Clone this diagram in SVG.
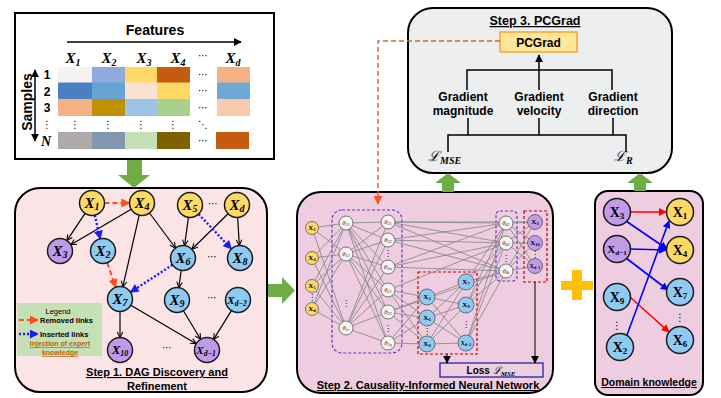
<svg xmlns="http://www.w3.org/2000/svg" width="721" height="398" viewBox="0 0 721 398">
<defs>
<style>
.sans{font-family:"Liberation Sans",Arial,sans-serif}
.b{font-weight:bold}
.ttl{font-family:"Liberation Sans",Arial,sans-serif;font-weight:bold;text-decoration:underline;text-anchor:middle}
.mx{font-family:"Liberation Serif","Times New Roman",serif;font-style:italic;font-weight:bold;text-anchor:middle}
.ux{font-family:"Liberation Serif","Times New Roman",serif;font-weight:bold;text-anchor:middle}
.th{font-family:"Liberation Serif","Times New Roman",serif;font-style:italic;text-anchor:middle;fill:#333}
.dots{font-family:"DejaVu Sans",sans-serif;text-anchor:middle}
.nd{stroke:#1a1a1a;stroke-width:1.5}
.yl{fill:#FFD966}.bl{fill:#8ECAF2}.pu{fill:#C09BEA}.wh{fill:#F4F4F4}
.e{stroke:#000;stroke-width:1.2;fill:none;marker-end:url(#ah)}
.rd{stroke:#FF4A1A;stroke-width:2;stroke-dasharray:5 3;fill:none;marker-end:url(#ar)}
.bd{stroke:#1A1AFF;stroke-width:2.4;stroke-dasharray:2 2;fill:none;marker-end:url(#ab)}
.nn{stroke:#8C8C8C;stroke-width:0.9;fill:none}
.nc{stroke:#555;stroke-width:0.8}
.gr{fill:#70AD47}
</style>
<marker id="ah" viewBox="0 0 10 10" refX="9" refY="5" markerWidth="7" markerHeight="7" markerUnits="userSpaceOnUse" orient="auto"><path d="M1,1 L9,5 L1,9" fill="none" stroke="#000" stroke-width="1.5"/></marker>
<marker id="ak" viewBox="0 0 10 10" refX="9" refY="5" markerWidth="8" markerHeight="8" markerUnits="userSpaceOnUse" orient="auto-start-reverse"><path d="M0,0 L10,5 L0,10 z" fill="#000"/></marker>
<marker id="ar" viewBox="0 0 10 10" refX="9" refY="5" markerWidth="9" markerHeight="9" markerUnits="userSpaceOnUse" orient="auto"><path d="M0,0 L10,5 L0,10 z" fill="#FF4A1A"/></marker>
<marker id="ab" viewBox="0 0 10 10" refX="9" refY="5" markerWidth="9" markerHeight="9" markerUnits="userSpaceOnUse" orient="auto"><path d="M0,0 L10,5 L0,10 z" fill="#1A1AFF"/></marker>
<marker id="ao" viewBox="0 0 10 10" refX="9" refY="5" markerWidth="9" markerHeight="9" markerUnits="userSpaceOnUse" orient="auto"><path d="M0,0 L10,5 L0,10 z" fill="#F05A28"/></marker>
<marker id="dr" viewBox="0 0 10 10" refX="9" refY="5" markerWidth="8" markerHeight="8" markerUnits="userSpaceOnUse" orient="auto"><path d="M0,0 L10,5 L0,10 z" fill="#FF0000"/></marker>
<marker id="db" viewBox="0 0 10 10" refX="9" refY="5" markerWidth="8" markerHeight="8" markerUnits="userSpaceOnUse" orient="auto"><path d="M0,0 L10,5 L0,10 z" fill="#0000FF"/></marker>
</defs>
<rect width="721" height="398" fill="#fff"/>

<!-- Data table -->
<g id="data-table">
<rect x="15" y="13" width="259" height="146" fill="#fff" stroke="#000" stroke-width="2"/>
<text x="155" y="35" class="sans b" font-size="14" text-anchor="middle">Features</text>
<line x1="67" y1="42" x2="241" y2="42" stroke="#000" stroke-width="1.5" marker-end="url(#ak)"/>
<g class="mx" font-size="15">
<text x="73" y="63">X<tspan font-size="10" dy="3">1</tspan></text>
<text x="109" y="63">X<tspan font-size="10" dy="3">2</tspan></text>
<text x="144" y="63">X<tspan font-size="10" dy="3">3</tspan></text>
<text x="178" y="63">X<tspan font-size="10" dy="3">4</tspan></text>
<text x="233" y="63">X<tspan font-size="10" dy="3">d</tspan></text>
</g>
<text x="203" y="59" class="dots" font-size="10">⋯</text>
<rect x="58" y="67" width="34" height="16" fill="#F6F2EF"/>
<rect x="92" y="67" width="33" height="16" fill="#8FAADC"/>
<rect x="125" y="67" width="32" height="16" fill="#FFD966"/>
<rect x="157" y="67" width="33" height="16" fill="#C55A11"/>
<rect x="217" y="67" width="33" height="16" fill="#F4B183"/>
<rect x="58" y="82.5" width="34" height="16.5" fill="#4A80C0"/>
<rect x="92" y="82.5" width="33" height="16.5" fill="#64A3D2"/>
<rect x="125" y="82.5" width="32" height="16.5" fill="#F8E2D2"/>
<rect x="157" y="82.5" width="33" height="16.5" fill="#FFD966"/>
<rect x="217" y="82.5" width="33" height="16.5" fill="#6FA8D2"/>
<rect x="58" y="99" width="34" height="17" fill="#F4B183"/>
<rect x="92" y="99" width="33" height="17" fill="#BF9000"/>
<rect x="125" y="99" width="32" height="17" fill="#9DC3E6"/>
<rect x="157" y="99" width="33" height="17" fill="#A9D18E"/>
<rect x="217" y="99" width="33" height="17" fill="#F8CBAD"/>
<rect x="58" y="132" width="34" height="17" fill="#AEAAAA"/>
<rect x="92" y="132" width="33" height="17" fill="#8497B0"/>
<rect x="125" y="132" width="32" height="17" fill="#C5E0B4"/>
<rect x="157" y="132" width="33" height="17" fill="#7F6000"/>
<rect x="216" y="132" width="33" height="17" fill="#C55A11"/>
<g class="dots" font-size="10">
<text x="203" y="78">⋯</text><text x="203" y="94">⋯</text><text x="203" y="111">⋯</text><text x="203" y="144">⋯</text>
<text x="75" y="128">⋮</text><text x="108" y="128">⋮</text><text x="141" y="128">⋮</text><text x="173" y="128">⋮</text><text x="203" y="128">⋱</text>
<text x="47" y="128">⋮</text>
</g>
<g class="sans b" font-size="12" text-anchor="middle">
<text x="47" y="79">1</text><text x="47" y="96">2</text><text x="47" y="112">3</text>
</g>
<text x="46" y="146" class="mx" font-size="14">N</text>
<line x1="35" y1="70" x2="35" y2="141" stroke="#000" stroke-width="1.5" marker-start="url(#ak)" marker-end="url(#ak)"/>
<text transform="translate(27,102) rotate(-90)" y="5" class="sans b" font-size="14" text-anchor="middle">Samples</text>
</g>

<!-- Panel backgrounds -->
<g id="step1-panel">
<rect x="15" y="188" width="252" height="204" rx="25" fill="#FBE4E5" stroke="#000" stroke-width="2"/>
<text x="157" y="376" class="ttl" font-size="11">Step 1. DAG Discovery and</text>
<text x="157" y="390" class="ttl" font-size="11">Refinement</text>
</g>
<g id="step2-panel">
<rect x="297" y="192" width="256" height="201" rx="24" fill="#EECDE1" stroke="#000" stroke-width="2"/>
<text x="428" y="389" class="ttl" font-size="11">Step 2. Causality-Informed Neural Network</text>
</g>
<g id="step3-panel">
<rect x="408" y="8" width="264" height="165" rx="25" fill="#EDEEF0" stroke="#000" stroke-width="2"/>
<text x="535" y="25" class="ttl" font-size="12.5">Step 3. PCGrad</text>
</g>
<g id="domain-panel">
<rect x="595" y="191" width="108" height="204" rx="13" fill="#EECDE1" stroke="#000" stroke-width="2"/>
<text x="649" y="386" class="ttl" font-size="10.5">Domain knowledge</text>
</g>

<!-- Green arrows and plus -->
<g id="flow-arrows">
<polygon class="gr" points="127,160 142,160 142,175 150,175 134,188 118,175 127,175"/>
<polygon class="gr" points="268,284 282,284 282,277 295,290.5 282,304 282,297 268,297"/>
<polygon class="gr" points="442,192 454,192 454,183 461,183 448,173 435,183 442,183"/>
<polygon class="gr" points="634,191 646,191 646,183 653,183 640,173 627,183 634,183"/>
<rect x="561" y="281" width="32" height="9" fill="#FFC000"/>
<rect x="572" y="270" width="10" height="30" fill="#FFC000"/>
</g>

<!-- Step 1 legend -->
<g id="legend">
<rect x="17" y="303" width="85" height="53" fill="#C5E0B4"/>
<text x="58" y="314" class="sans" font-size="7.5" text-anchor="middle">Legend</text>
<line x1="19" y1="320" x2="38" y2="320" class="rd"/>
<text x="40" y="323" class="sans b" font-size="7.5">Removed links</text>
<line x1="19" y1="334" x2="38" y2="334" class="bd"/>
<text x="40" y="337" class="sans b" font-size="7.5">Inserted links</text>
<text x="60" y="346" class="sans b" font-size="7" fill="#C55A11" text-anchor="middle" text-decoration="underline">Injection of expert</text>
<text x="60" y="355" class="sans b" font-size="7" fill="#C55A11" text-anchor="middle" text-decoration="underline">knowledge</text>
</g>

<!-- Step 1 connectors -->
<g id="dag-edges">
<line class="rd" x1="104.5" y1="203" x2="129.5" y2="203"/>
<line class="e" x1="85.1" y1="213.4" x2="66.9" y2="240.6"/>
<line class="e" x1="131.2" y1="209.3" x2="70.8" y2="244.7"/>
<line class="bd" x1="94.8" y1="215.2" x2="100.2" y2="238.8"/>
<line class="e" x1="139.2" y1="215.2" x2="122.8" y2="286.8"/>
<line class="e" x1="149.5" y1="213" x2="175.5" y2="248"/>
<line class="e" x1="188.4" y1="217.4" x2="184.6" y2="245.6"/>
<line class="e" x1="228.1" y1="213.8" x2="191.9" y2="249.2"/>
<line class="e" x1="237.7" y1="217.5" x2="239.3" y2="245.5"/>
<line class="bd" x1="198.6" y1="214.1" x2="231.4" y2="248.9"/>
<line class="rd" x1="107.2" y1="262.8" x2="115.8" y2="287.2"/>
<line class="bd" x1="172.5" y1="264.8" x2="130.5" y2="292.2"/>
<line class="e" x1="181.2" y1="270.4" x2="178.8" y2="287.6"/>
<line class="e" x1="120" y1="311.5" x2="120" y2="337.5"/>
<line class="e" x1="130.8" y1="305.3" x2="196.2" y2="343.7"/>
<line class="e" x1="183.4" y1="310.7" x2="200.6" y2="339.3"/>
<line class="e" x1="231.4" y1="310.6" x2="213.6" y2="339.4"/>
</g>

<!-- Step 1 nodes -->
<g id="dag-X1"><circle cx="92" cy="203" r="12.5" class="nd yl"/><text x="92" y="208" class="mx" font-size="15">X<tspan font-size="10" dy="2">1</tspan></text></g>
<g id="dag-X4"><circle cx="142" cy="203" r="12.5" class="nd yl"/><text x="142" y="208" class="mx" font-size="15">X<tspan font-size="10" dy="2">4</tspan></text></g>
<g id="dag-X5"><circle cx="190" cy="205" r="12.5" class="nd yl"/><text x="190" y="210" class="mx" font-size="15">X<tspan font-size="10" dy="2">5</tspan></text></g>
<g id="dag-Xd"><circle cx="237" cy="205" r="12.5" class="nd yl"/><text x="237" y="210" class="mx" font-size="15">X<tspan font-size="10" dy="2">d</tspan></text></g>
<g id="dag-X3"><circle cx="60" cy="251" r="12.5" class="nd pu"/><text x="60" y="256" class="mx" font-size="15">X<tspan font-size="10" dy="2">3</tspan></text></g>
<g id="dag-X2"><circle cx="103" cy="251" r="12.5" class="nd bl"/><text x="103" y="256" class="mx" font-size="15">X<tspan font-size="10" dy="2">2</tspan></text></g>
<g id="dag-X6"><circle cx="183" cy="258" r="12.5" class="nd bl"/><text x="183" y="263" class="mx" font-size="15">X<tspan font-size="10" dy="2">6</tspan></text></g>
<g id="dag-X8"><circle cx="240" cy="258" r="12.5" class="nd bl"/><text x="240" y="263" class="mx" font-size="15">X<tspan font-size="10" dy="2">8</tspan></text></g>
<g id="dag-X7"><circle cx="120" cy="299" r="12.5" class="nd bl"/><text x="120" y="304" class="mx" font-size="15">X<tspan font-size="10" dy="2">7</tspan></text></g>
<g id="dag-X9"><circle cx="177" cy="300" r="12.5" class="nd bl"/><text x="177" y="305" class="mx" font-size="15">X<tspan font-size="10" dy="2">9</tspan></text></g>
<g id="dag-Xd-2"><circle cx="238" cy="300" r="12.5" class="nd bl"/><text x="237" y="304" class="mx" font-size="11">X<tspan font-size="7.5" dy="2">d−2</tspan></text></g>
<g id="dag-X10"><circle cx="120" cy="350" r="12.5" class="nd pu"/><text x="120" y="354" class="mx" font-size="13">X<tspan font-size="8" dy="2">10</tspan></text></g>
<g id="dag-Xd-1"><circle cx="207" cy="350" r="12.5" class="nd pu"/><text x="206" y="354" class="mx" font-size="11">X<tspan font-size="7.5" dy="2">d−1</tspan></text></g>
<g class="dots" font-size="10">
<text x="213" y="207">⋯</text><text x="212" y="260">⋯</text><text x="212" y="301">⋯</text><text x="167" y="351">⋯</text>
</g>

<!-- Step 2 neural network -->
<g id="nn-groups" fill="none" stroke-width="1.2" stroke-dasharray="3 2">
<rect x="332" y="210" width="70" height="143" rx="10" stroke="#7030C0"/>
<rect x="418" y="272" width="59" height="82" stroke="#C00000"/>
<rect x="496" y="211" width="21" height="70" rx="4" stroke="#7030C0"/>
<rect x="524" y="211" width="23" height="71" stroke="#C00000"/>
</g>
<g id="nn-connections" class="nn">
<path d="M312,228L346,223M312,228L346,254M312,228L346,328M312,258L346,223M312,258L346,254M312,258L346,328M312,286L346,223M312,286L346,254M312,286L346,328M312,309L346,223M312,309L346,254M312,309L346,328"/>
<path d="M346,223L388,222M346,223L388,240M346,223L388,267M346,223L388,290M346,223L388,312M346,223L388,343M346,254L388,222M346,254L388,240M346,254L388,267M346,254L388,290M346,254L388,312M346,254L388,343M346,328L388,222M346,328L388,240M346,328L388,267M346,328L388,290M346,328L388,312M346,328L388,343"/>
<path d="M388,222L506,223M388,222L506,243M388,222L506,271M388,240L506,223M388,240L506,243M388,240L506,271M388,267L506,223M388,267L506,243M388,267L506,271M388,222L535,222M388,290L506,243M388,312L506,271"/>
<path d="M388,290L427,297M388,290L427,318M388,290L427,344M388,312L427,297M388,312L427,318M388,312L427,344M388,343L427,297M388,343L427,318M388,343L427,344"/>
<path d="M427,297L466,282M427,297L466,305M427,297L466,343M427,318L466,282M427,318L466,305M427,318L466,343M427,344L466,282M427,344L466,305M427,344L466,343"/>
<path d="M466,282L506,223M466,282L506,243M466,282L506,271M466,305L506,223M466,305L506,243M466,305L506,271M466,343L506,223M466,343L506,243M466,343L506,271"/>
<path d="M506,223L535,222M506,223L535,243M506,223L535,266M506,243L535,222M506,243L535,243M506,243L535,266M506,271L535,222M506,271L535,243M506,271L535,266"/>
</g>
<g id="nn-inputs">
<circle cx="312" cy="228" r="6.5" class="nc yl"/><circle cx="312" cy="258" r="6.5" class="nc yl"/><circle cx="312" cy="286" r="6.5" class="nc yl"/><circle cx="312" cy="309" r="6.5" class="nc yl"/>
<g class="ux" font-size="7"><text x="312" y="230">X<tspan font-size="4.5" dy="1">1</tspan></text><text x="312" y="260">X<tspan font-size="4.5" dy="1">4</tspan></text><text x="312" y="288">X<tspan font-size="4.5" dy="1">5</tspan></text><text x="312" y="311">X<tspan font-size="4.5" dy="1">d</tspan></text></g>
<text x="312" y="300" class="dots" font-size="8">⋮</text>
</g>
<g id="nn-hidden1">
<circle cx="346" cy="223" r="7" class="nc wh"/><circle cx="346" cy="254" r="7" class="nc wh"/><circle cx="346" cy="328" r="7" class="nc wh"/>
<g class="th" font-size="6.5"><text x="346" y="225">θ<tspan font-size="4.5" dy="1">11</tspan></text><text x="346" y="256">θ<tspan font-size="4.5" dy="1">12</tspan></text><text x="346" y="330">θ<tspan font-size="4.5" dy="1">1r</tspan></text></g>
<text x="346" y="306" class="dots" font-size="8">⋮</text>
</g>
<g id="nn-hidden2">
<circle cx="388" cy="222" r="7" class="nc wh"/><circle cx="388" cy="240" r="7" class="nc wh"/><circle cx="388" cy="267" r="7" class="nc wh"/><circle cx="388" cy="290" r="7" class="nc wh"/><circle cx="388" cy="312" r="7" class="nc wh"/><circle cx="388" cy="343" r="7" class="nc wh"/>
<g class="th" font-size="6.5"><text x="388" y="224">θ<tspan font-size="4.5" dy="1">31</tspan></text><text x="388" y="242">θ<tspan font-size="4.5" dy="1">32</tspan></text><text x="388" y="269">θ<tspan font-size="4.5" dy="1">3m</tspan></text><text x="388" y="292">θ<tspan font-size="4.5" dy="1">21</tspan></text><text x="388" y="314">θ<tspan font-size="4.5" dy="1">22</tspan></text><text x="388" y="345">θ<tspan font-size="4.5" dy="1">2q</tspan></text></g>
<text x="388" y="256" class="dots" font-size="8">⋮</text><text x="388" y="331" class="dots" font-size="8">⋮</text>
</g>
<g id="nn-causal">
<circle cx="427" cy="297" r="8" class="nc bl"/><circle cx="427" cy="318" r="8" class="nc bl"/><circle cx="427" cy="344" r="8" class="nc bl"/>
<circle cx="466" cy="282" r="8" class="nc bl"/><circle cx="466" cy="305" r="8" class="nc bl"/><circle cx="466" cy="343" r="8" class="nc bl"/>
<g class="ux" font-size="7"><text x="427" y="299">X<tspan font-size="4.5" dy="1">2</tspan></text><text x="427" y="320">X<tspan font-size="4.5" dy="1">6</tspan></text><text x="427" y="346">X<tspan font-size="4.5" dy="1">8</tspan></text><text x="466" y="284">X<tspan font-size="4.5" dy="1">7</tspan></text><text x="466" y="307">X<tspan font-size="4.5" dy="1">9</tspan></text><text x="466" y="345" font-size="5.5">X<tspan font-size="4" dy="1">d−2</tspan></text></g>
<text x="427" y="334" class="dots" font-size="8">⋮</text><text x="466" y="327" class="dots" font-size="8">⋮</text>
</g>
<g id="nn-hidden4">
<circle cx="506" cy="223" r="7" class="nc wh"/><circle cx="506" cy="243" r="7" class="nc wh"/><circle cx="506" cy="271" r="7" class="nc wh"/>
<g class="th" font-size="6.5"><text x="506" y="225">θ<tspan font-size="4.5" dy="1">41</tspan></text><text x="506" y="245">θ<tspan font-size="4.5" dy="1">42</tspan></text><text x="506" y="273">θ<tspan font-size="4.5" dy="1">4t</tspan></text></g>
<text x="506" y="261" class="dots" font-size="8">⋮</text>
</g>
<g id="nn-outputs">
<circle cx="535" cy="222" r="7.5" class="nc pu"/><circle cx="535" cy="243" r="7.5" class="nc pu"/><circle cx="535" cy="266" r="7.5" class="nc pu"/>
<g class="ux" font-size="7"><text x="535" y="224">X<tspan font-size="4.5" dy="1">3</tspan></text><text x="535" y="245">X<tspan font-size="4.5" dy="1">10</tspan></text><text x="535" y="268" font-size="5.5">X<tspan font-size="4" dy="1">d−1</tspan></text></g>
<text x="535" y="257" class="dots" font-size="8">⋮</text>
</g>
<g id="loss">
<rect x="440" y="363" width="103" height="14" fill="none" stroke="#3B3BA8" stroke-width="1.5"/>
<text x="491" y="374" class="sans b" font-size="10" text-anchor="middle">Loss <tspan font-family="DejaVu Serif,serif" font-style="italic" font-weight="normal">ℒ</tspan><tspan font-family="Liberation Serif,serif" font-style="italic" font-size="7" dy="2">MSE</tspan></text>
</g>
<g id="loss-arrows" stroke="#000" stroke-width="1">
<line x1="447" y1="354" x2="447" y2="363" marker-end="url(#ak)"/>
<line x1="535" y1="282" x2="535" y2="363" marker-end="url(#ak)"/>
</g>

<!-- Step 3 -->
<g id="pcgrad">
<rect x="500" y="32" width="77" height="20" fill="#FFE699" stroke="#F4A536" stroke-width="1.5"/>
<text x="538.5" y="46.5" class="sans b" font-size="12" text-anchor="middle">PCGrad</text>
</g>
<g id="grad-terms" class="sans b" font-size="12" text-anchor="middle">
<text x="463" y="101">Gradient</text><text x="463" y="115">magnitude</text>
<text x="539" y="101">Gradient</text><text x="539" y="115">velocity</text>
<text x="613" y="101">Gradient</text><text x="613" y="115">direction</text>
</g>
<g id="loss-labels" font-family="DejaVu Serif,serif" font-style="italic" font-size="14">
<text x="428" y="161">ℒ<tspan font-family="Liberation Serif,serif" font-weight="bold" font-size="10" dy="3">MSE</tspan></text>
<text x="614" y="161">ℒ<tspan font-family="Liberation Serif,serif" font-weight="bold" font-size="10" dy="3">R</tspan></text>
</g>
<g id="pcgrad-tree" stroke="#000" stroke-width="1.5" fill="none">
<path d="M467,90V70H612V90"/>
<line x1="539" y1="90" x2="539" y2="55" marker-end="url(#ak)"/>
<path d="M468,118V135M539,118V135M613,118V135M448,152V135H626V152"/>
</g>
<g id="feedback">
<path d="M500,41H378V204" fill="none" stroke="#F05A28" stroke-width="1.5" stroke-dasharray="5 3" marker-end="url(#ao)"/>
</g>

<!-- Domain knowledge -->
<g id="domain-edges" stroke-width="1.6" fill="none">
<line x1="630.5" y1="212" x2="666" y2="212" stroke="#FF0000" marker-end="url(#dr)"/>
<line x1="626" y1="221" x2="667" y2="249" stroke="#0000FF" marker-end="url(#db)"/>
<line x1="630.5" y1="249" x2="666" y2="250" stroke="#0000FF" marker-end="url(#db)"/>
<line x1="626" y1="258" x2="668" y2="290" stroke="#0000FF" marker-end="url(#db)"/>
<line x1="630" y1="297" x2="669" y2="332" stroke="#FF0000" marker-end="url(#dr)"/>
<line x1="627" y1="335" x2="669" y2="221" stroke="#0000FF" marker-end="url(#db)"/>
</g>
<g id="dk-X3"><circle cx="617" cy="212" r="13.5" class="nd pu"/><text x="617" y="217" class="ux" font-size="14">X<tspan font-size="9" dy="2">3</tspan></text></g>
<g id="dk-Xd-1"><circle cx="617" cy="249" r="13.5" class="nd pu"/><text x="617" y="253" class="ux" font-size="11">X<tspan font-size="7" dy="2">d−1</tspan></text></g>
<g id="dk-X9"><circle cx="617" cy="297" r="13.5" class="nd bl"/><text x="617" y="302" class="ux" font-size="14">X<tspan font-size="9" dy="2">9</tspan></text></g>
<g id="dk-X2"><circle cx="620" cy="347" r="13.5" class="nd bl"/><text x="620" y="352" class="ux" font-size="14">X<tspan font-size="9" dy="2">2</tspan></text></g>
<g id="dk-X1"><circle cx="680" cy="212" r="13.5" class="nd yl"/><text x="680" y="217" class="ux" font-size="14">X<tspan font-size="9" dy="2">1</tspan></text></g>
<g id="dk-X4"><circle cx="680" cy="250" r="13.5" class="nd yl"/><text x="680" y="255" class="ux" font-size="14">X<tspan font-size="9" dy="2">4</tspan></text></g>
<g id="dk-X7"><circle cx="680" cy="292" r="13.5" class="nd bl"/><text x="680" y="297" class="ux" font-size="14">X<tspan font-size="9" dy="2">7</tspan></text></g>
<g id="dk-X6"><circle cx="680" cy="340" r="13.5" class="nd bl"/><text x="680" y="345" class="ux" font-size="14">X<tspan font-size="9" dy="2">6</tspan></text></g>
<g class="dots" font-size="10"><text x="617" y="329">⋮</text><text x="680" y="321">⋮</text></g>
</svg>
